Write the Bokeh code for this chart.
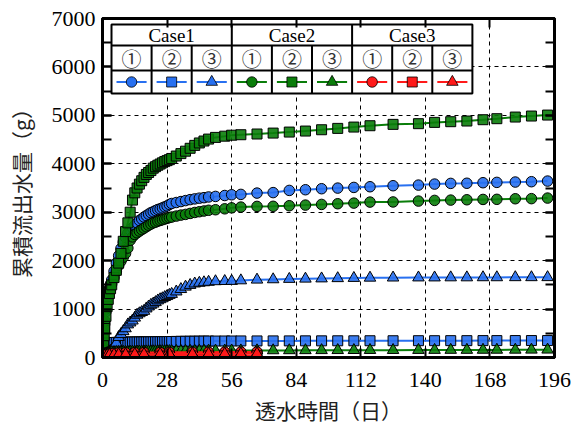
from bokeh.plotting import figure
from bokeh.models import Range1d, SingleIntervalTicker, LinearAxis, CustomJSTickFormatter
from bokeh.core.properties import value
from bokeh.embed import file_html
from bokeh.resources import INLINE

# ---------------- data ----------------
days = [0, 0.25, 0.5, 0.75, 1, 1.5, 2, 2.5, 3, 3.5, 4,
        5, 6, 7, 8, 9, 10, 11, 12, 13, 14, 15, 16, 17, 18, 19, 20,
        21, 22, 23, 24, 25, 26, 27, 28, 29, 30,
        32, 34, 36, 38, 40, 42, 44, 46,
        49, 53, 56, 60, 67,
        74, 81, 88, 95, 102, 109, 116, 126, 137, 144, 151, 158, 165, 171, 179, 186, 193]

case1_1 = [0, 150, 350, 550, 700, 950, 1150, 1300, 1420, 1520, 1600,
           1780, 1950, 2100, 2250, 2380, 2480, 2570, 2630, 2680, 2730, 2780, 2830, 2860, 2900, 2930, 2960,
           2990, 3010, 3035, 3055, 3070, 3090, 3110, 3130, 3160, 3180,
           3200, 3220, 3240, 3260, 3275, 3290, 3300, 3315,
           3326, 3345, 3360, 3368, 3395,
           3405, 3450, 3464, 3485, 3498, 3512, 3526, 3547, 3560, 3581, 3595, 3598, 3609, 3616, 3623, 3630, 3643]
case1_2 = [0, 80, 150, 200, 240, 270, 285, 295, 300, 305, 308,
           310, 312, 314, 315, 316, 316, 317, 318, 318, 319, 320, 320, 321, 322, 322, 323,
           324, 324, 325, 326, 326, 327, 328, 328, 329, 330,
           332, 334, 335, 336, 337, 338, 339, 340,
           340, 341, 341, 342, 342,
           343, 343, 344, 344, 345, 345, 346, 346, 347, 347, 348, 348, 349, 349, 350, 350, 350]
case1_3 = [0, 10, 20, 30, 40, 60, 80, 100, 120, 140, 160,
           220, 300, 420, 480, 540, 600, 680, 720, 760, 820, 880, 910, 936, 960, 1010, 1050,
           1085, 1110, 1140, 1175, 1200, 1220, 1245, 1265, 1290, 1310,
           1360, 1410, 1460, 1495, 1525, 1540, 1550, 1560,
           1572, 1576, 1578, 1590, 1605,
           1612, 1620, 1625, 1630, 1635, 1640, 1645, 1648, 1650, 1650, 1652, 1652, 1654, 1654, 1655, 1655, 1656]
case2_1 = [0, 200, 400, 600, 750, 1000, 1200, 1330, 1420, 1480, 1520,
           1650, 1780, 1900, 1990, 2070, 2150, 2260, 2420, 2490, 2540, 2575, 2610, 2640, 2670, 2700, 2730,
           2755, 2780, 2795, 2815, 2830, 2845, 2860, 2875, 2890, 2900,
           2920, 2940, 2955, 2975, 2995, 3010, 3025, 3040,
           3051, 3070, 3090, 3106, 3120,
           3122, 3134, 3147, 3161, 3175, 3188, 3209, 3212, 3230, 3244, 3250, 3257, 3264, 3266, 3278, 3280, 3292]
case2_2 = [0, 150, 300, 450, 600, 850, 1050, 1200, 1320, 1420, 1500,
           1650, 1800, 1950, 2150, 2400, 2600, 2780, 3000, 3250, 3400, 3500, 3580, 3650, 3720, 3780, 3820,
           3860, 3910, 3940, 3970, 3995, 4020, 4045, 4065, 4085, 4110,
           4160, 4210, 4260, 4320, 4380, 4430, 4470, 4510,
           4545, 4570, 4590, 4600, 4615,
           4634, 4655, 4676, 4703, 4731, 4758, 4786, 4814, 4828, 4855, 4869, 4883, 4910, 4931, 4965, 4986, 5006]
case2_3 = [0, 20, 40, 55, 65, 80, 90, 95, 100, 102, 105,
           108, 110, 112, 113, 114, 115, 116, 117, 118, 119, 120, 121, 122, 122, 123, 124,
           125, 125, 126, 127, 127, 128, 129, 129, 130, 130,
           132, 133, 134, 135, 136, 137, 138, 139,
           140, 141, 142, 143, 145,
           146, 147, 148, 149, 150, 151, 152, 152, 153, 154, 155, 155, 156, 157, 158, 159, 160]

case3_days = [0, 0.5, 1, 2, 3, 5, 7, 10, 14, 18, 25, 29, 39, 46, 53, 60, 67]
case3_1 = [0, 40, 60, 75, 85, 90, 95, 98, 100, 102, 104, 106, 108, 110, 112, 114, 115]
case3_2 = [0, 10, 15, 20, 22, 24, 25, 26, 27, 28, 29, 30, 31, 32, 33, 34, 35]
case3_3 = [0, 25, 40, 50, 55, 60, 62, 64, 66, 68, 70, 72, 74, 75, 76, 78, 80]

case_labels = ["Case1", "Case2", "Case3"]
sub_labels = ["\u2460", "\u2461", "\u2462"]
x_title = "透水時間（日）"
y_title = "累積流出水量（g）"

# ---------------- style ----------------
BLUE = "#2870f0"
GREEN = "#0a7d0a"
RED = "#ff1a1a"
colors = [BLUE, GREEN, RED]
markers = ["circle", "square", "triangle"]
msize = {"circle": 10.5, "square": 10, "triangle": 11.5}
SERIF = "Liberation Serif"
JP = "Noto Sans CJK JP"

X0, X1, Y0, Y1 = 0, 196, 0, 7000
FW, FH = 452, 339

p = figure(width=571, height=427,
           x_range=Range1d(X0, X1), y_range=Range1d(Y0, Y1),
           output_backend="svg", toolbar_location=None,
           min_border_left=102, min_border_right=17, min_border_top=18, min_border_bottom=70)
p.background_fill_color = "white"
p.border_fill_color = "white"
p.outline_line_color = "black"
p.outline_line_width = 3

p.xaxis.ticker = SingleIntervalTicker(interval=28, num_minor_ticks=0)
p.yaxis.ticker = SingleIntervalTicker(interval=1000, num_minor_ticks=2)

for ax in (p.xaxis[0], p.yaxis[0]):
    ax.axis_line_width = 3
    ax.major_tick_in = 9
    ax.major_tick_out = 0
    ax.minor_tick_in = 9
    ax.minor_tick_out = 0
    ax.major_tick_line_width = 2
    ax.minor_tick_line_width = 2
    ax.major_label_text_font = SERIF
    ax.major_label_text_font_size = "22px"
    ax.major_label_text_color = "black"
    ax.axis_label_text_font = JP
    ax.axis_label_text_font_size = "21px"
    ax.axis_label_text_font_style = "normal"
    ax.axis_label_text_color = "#222222"

p.xaxis.minor_tick_in = 0
p.xaxis.major_label_standoff = 15
p.xaxis.axis_label = x_title
p.xaxis.axis_label_standoff = 5
p.yaxis.major_label_standoff = 7
p.yaxis.axis_label = y_title
p.yaxis.axis_label_standoff = 13

blank = CustomJSTickFormatter(code="return ''")
for loc, tk in (("above", SingleIntervalTicker(interval=28, num_minor_ticks=0)),
                ("right", SingleIntervalTicker(interval=1000, num_minor_ticks=2))):
    ax = LinearAxis(ticker=tk, formatter=blank, major_label_text_font_size="8px",
                    major_label_standoff=0,
                    major_tick_in=9, major_tick_out=0,
                    minor_tick_in=(9 if loc == "right" else 0), minor_tick_out=0,
                    major_tick_line_width=2, minor_tick_line_width=2, axis_line_width=3)
    p.add_layout(ax, loc)

for g in (p.xgrid[0], p.ygrid[0]):
    g.grid_line_color = "black"
    g.grid_line_dash = "4 4"
    g.grid_line_width = 1

# ---------------- series ----------------
series = [
    (days, case1_1, 0, 0), (days, case1_2, 0, 1), (days, case1_3, 0, 2),
    (days, case2_1, 1, 0), (days, case2_2, 1, 1), (days, case2_3, 1, 2),
    (case3_days, case3_1, 2, 0), (case3_days, case3_2, 2, 1), (case3_days, case3_3, 2, 2),
]
for xs, ys, ci, mi in series:
    p.line(xs, ys, line_color=colors[ci], line_width=2)
    p.scatter(xs, ys, marker=markers[mi], size=msize[markers[mi]],
              fill_color=colors[ci], fill_alpha=0.9, line_color="black", line_width=1)

# ---------------- legend table ----------------
def fx(px):
    return X0 + px * (X1 - X0) / FW

def fy(py):
    return Y1 - py * (Y1 - Y0) / FH

LX, CW = 9, 40.1
row_edges = [6, 27, 52, 75]
xl, xr = fx(LX), fx(LX + 9 * CW)
p.quad(left=[xl], right=[xr], top=[fy(row_edges[0])], bottom=[fy(row_edges[3])],
       fill_color="white", line_color="black", line_width=2)
p.segment(x0=[xl, xl], x1=[xr, xr], y0=[fy(row_edges[1]), fy(row_edges[2])],
          y1=[fy(row_edges[1]), fy(row_edges[2])], line_color="black", line_width=2)
vx0, vy0, vy1 = [], [], []
for c in range(1, 9):
    vx0.append(fx(LX + c * CW))
    top_edge = row_edges[0] if c % 3 == 0 else row_edges[1]
    vy0.append(fy(top_edge))
    vy1.append(fy(row_edges[3]))
p.segment(x0=vx0, x1=vx0, y0=vy0, y1=vy1, line_color="black", line_width=2)

p.text(x=[fx(LX + (3 * k + 1.5) * CW) for k in range(3)],
       y=[fy((row_edges[0] + row_edges[1]) / 2)] * 3, text=case_labels,
       text_align="center", text_baseline="middle", text_font=value(SERIF),
       text_font_size="19px", text_color="black")
sub_x, sub_t = [], []
for k in range(3):
    for j in range(3):
        c = 3 * k + j
        sub_x.append(fx(LX + (c + 0.5) * CW))
        sub_t.append(sub_labels[j])
p.text(x=sub_x, y=[fy((row_edges[1] + row_edges[2]) / 2)] * 9, text=sub_t,
       text_align="center", text_baseline="middle", text_font=value(JP),
       text_font_size="20px", text_color="#333333")
ym = fy((row_edges[2] + row_edges[3]) / 2)
for k in range(3):
    for j in range(3):
        c = 3 * k + j
        p.line([fx(LX + c * CW + 5), fx(LX + (c + 1) * CW - 5)], [ym, ym],
               line_color=colors[k], line_width=2)
        p.scatter([fx(LX + (c + 0.5) * CW)], [ym], marker=markers[j], size=msize[markers[j]],
                  fill_color=colors[k], line_color="black", line_width=0.8)

open("out.html", "w").write(file_html(p, INLINE))
